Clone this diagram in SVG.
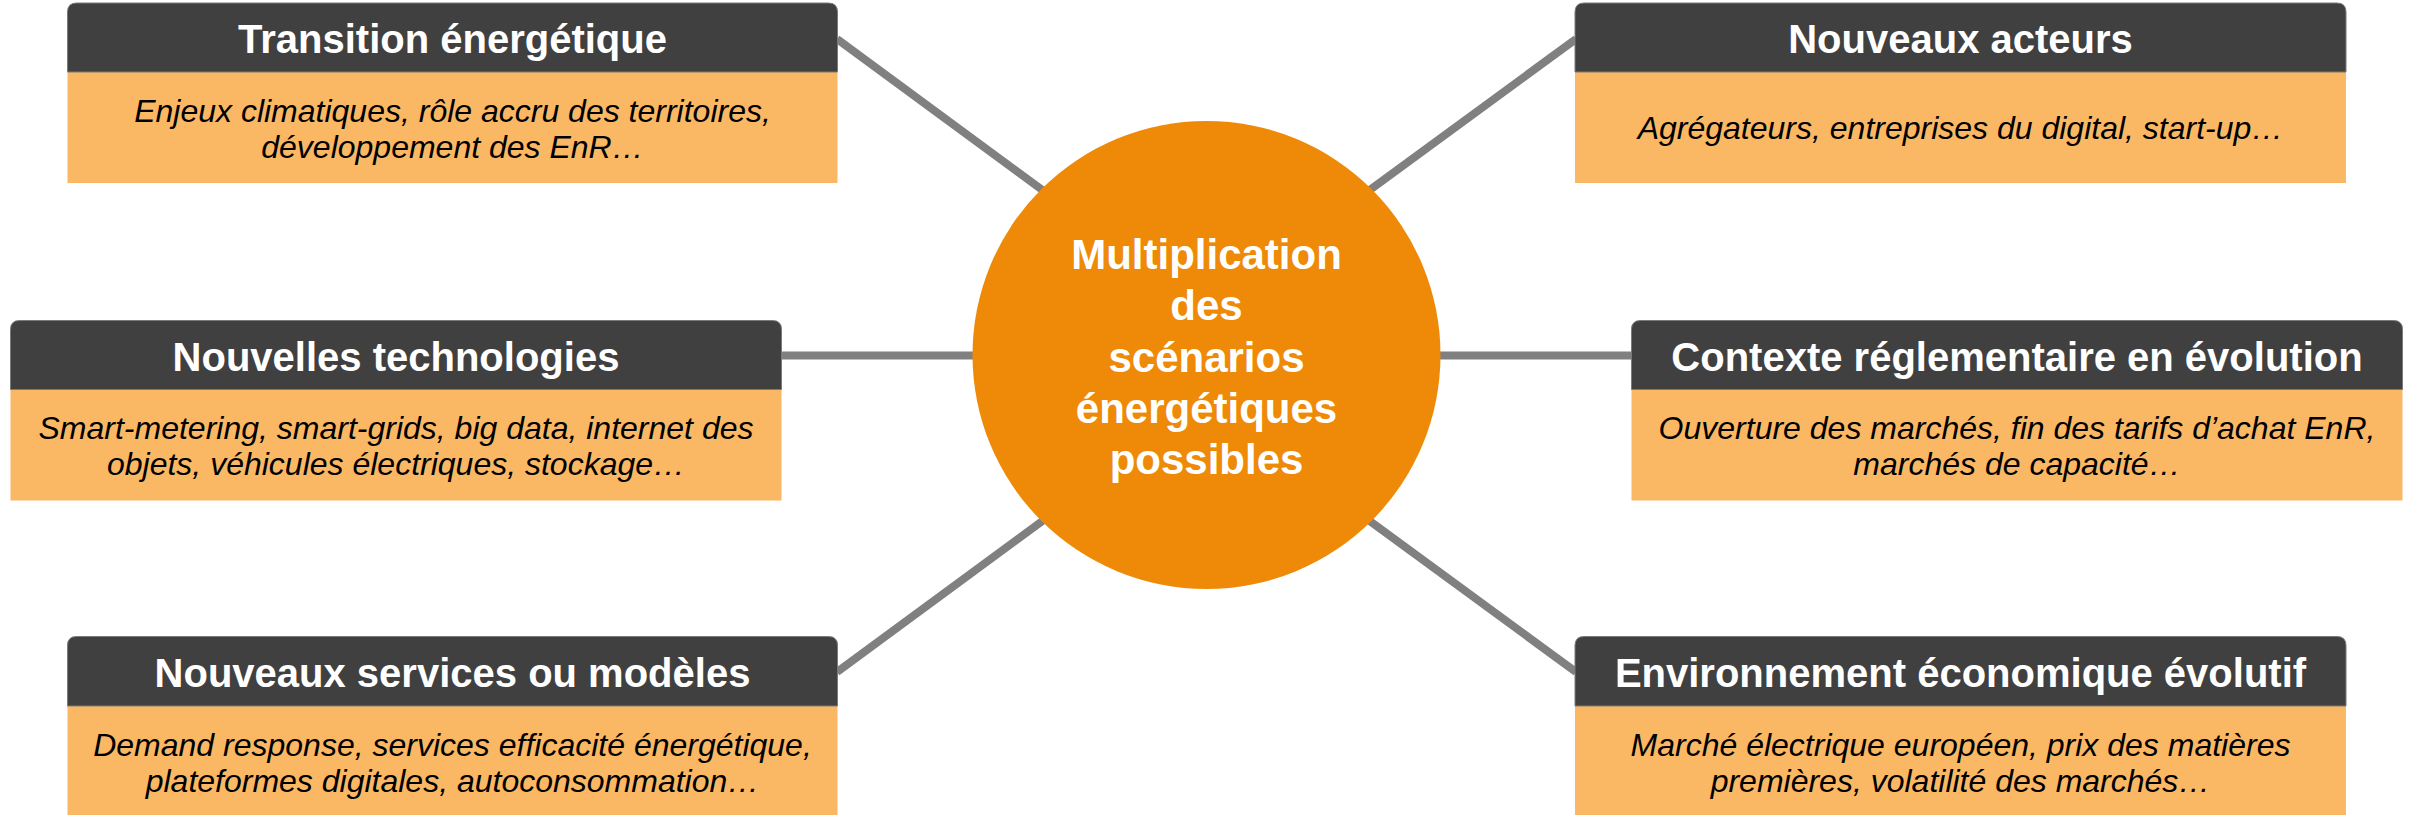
<svg xmlns="http://www.w3.org/2000/svg" width="2410" height="815" viewBox="0 0 2410 815">
  <style>
    .hdr { fill: #404040; stroke: #7a7a7a; stroke-width: 1; }
    .body { fill: #FBB864; }
    .title { font-family: "Liberation Sans", Arial, sans-serif; font-weight: bold; font-size: 40px; fill: #FFFFFF; text-anchor: middle; }
    .txt { font-family: "Liberation Sans", Arial, sans-serif; font-style: italic; font-size: 32px; fill: #000000; text-anchor: middle; }
    .conn { stroke: #808080; stroke-width: 8; fill: none; }
    .ctr { font-family: "Liberation Sans", Arial, sans-serif; font-weight: bold; font-size: 42px; fill: #FFFFFF; text-anchor: middle; }
  </style>
  <rect width="2410" height="815" fill="#FFFFFF"/>

  <g id="connectors">
    <line class="conn" x1="837" y1="39" x2="1060" y2="203"/>
    <line class="conn" x1="781" y1="355.5" x2="1000" y2="355.5"/>
    <line class="conn" x1="837" y1="672" x2="1060" y2="508"/>
    <line class="conn" x1="1576" y1="39" x2="1352" y2="203"/>
    <line class="conn" x1="1632" y1="355.5" x2="1412" y2="355.5"/>
    <line class="conn" x1="1576" y1="672" x2="1352" y2="508"/>
  </g>

  <g id="center">
    <circle cx="1206.5" cy="355" r="234" fill="#EE8A07"/>
    <text class="ctr" x="1206.5" y="269">Multiplication</text>
    <text class="ctr" x="1206.5" y="320">des</text>
    <text class="ctr" x="1206.5" y="372">scénarios</text>
    <text class="ctr" x="1206.5" y="423">énergétiques</text>
    <text class="ctr" x="1206.5" y="474">possibles</text>
  </g>

  <g id="transition">
    <rect class="body" x="67.5" y="72" width="770" height="111"/>
    <path class="hdr" d="M67.5,72 V12 Q67.5,3 76.5,3 H828.5 Q837.5,3 837.5,12 V72 Z"/>
    <text class="title" x="452.5" y="53">Transition énergétique</text>
    <text class="txt" x="452.5" y="122">Enjeux climatiques, rôle accru des territoires,</text>
    <text class="txt" x="452.5" y="158">développement des EnR…</text>
  </g>

  <g id="technologies">
    <rect class="body" x="10.5" y="389.5" width="771" height="111"/>
    <path class="hdr" d="M10.5,389.5 V329.5 Q10.5,320.5 19.5,320.5 H772.5 Q781.5,320.5 781.5,329.5 V389.5 Z"/>
    <text class="title" x="396" y="371">Nouvelles technologies</text>
    <text class="txt" x="396" y="439">Smart-metering, smart-grids, big data, internet des</text>
    <text class="txt" x="396" y="475">objets, véhicules électriques, stockage…</text>
  </g>

  <g id="services">
    <rect class="body" x="67.5" y="706" width="770" height="120"/>
    <path class="hdr" d="M67.5,706 V645.5 Q67.5,636.5 76.5,636.5 H828.5 Q837.5,636.5 837.5,645.5 V706 Z"/>
    <text class="title" x="452.5" y="687">Nouveaux services ou modèles</text>
    <text class="txt" x="452.5" y="756">Demand response, services efficacité énergétique,</text>
    <text class="txt" x="452.5" y="792">plateformes digitales, autoconsommation…</text>
  </g>

  <g id="acteurs">
    <rect class="body" x="1575" y="72" width="771" height="111"/>
    <path class="hdr" d="M1575,72 V12 Q1575,3 1584,3 H2337 Q2346,3 2346,12 V72 Z"/>
    <text class="title" x="1960.5" y="53">Nouveaux acteurs</text>
    <text class="txt" x="1960.5" y="139">Agrégateurs, entreprises du digital, start-up…</text>
  </g>

  <g id="reglementaire">
    <rect class="body" x="1631.5" y="389.5" width="771" height="111"/>
    <path class="hdr" d="M1631.5,389.5 V329.5 Q1631.5,320.5 1640.5,320.5 H2393.5 Q2402.5,320.5 2402.5,329.5 V389.5 Z"/>
    <text class="title" x="2017" y="371">Contexte réglementaire en évolution</text>
    <text class="txt" x="2017" y="439">Ouverture des marchés, fin des tarifs d’achat EnR,</text>
    <text class="txt" x="2017" y="475">marchés de capacité…</text>
  </g>

  <g id="economique">
    <rect class="body" x="1575" y="706" width="771" height="120"/>
    <path class="hdr" d="M1575,706 V645.5 Q1575,636.5 1584,636.5 H2337 Q2346,636.5 2346,645.5 V706 Z"/>
    <text class="title" x="1960.5" y="687">Environnement économique évolutif</text>
    <text class="txt" x="1960.5" y="756">Marché électrique européen, prix des matières</text>
    <text class="txt" x="1960.5" y="792">premières, volatilité des marchés…</text>
  </g>
</svg>
